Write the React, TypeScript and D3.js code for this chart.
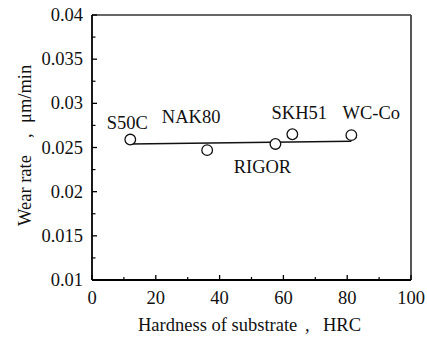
import * as d3 from "d3";

const materials = ["S50C", "NAK80", "RIGOR", "SKH51", "WC-Co"];
const hardness = [12, 36.1, 57.5, 62.8, 81.3];
const wearRate = [0.0259, 0.0247, 0.0254, 0.0265, 0.0264];

// fitted line end points
const fitHardness = [12, 81.3];
const fitWearRate = [0.0254, 0.0257];

const xTicks = [0, 20, 40, 60, 80, 100];
const xMinorTicks = [10, 30, 50, 70, 90];
const yTicks = [0.01, 0.015, 0.02, 0.025, 0.03, 0.035, 0.04];
const yMinorTicks = [0.0125, 0.0175, 0.0225, 0.0275, 0.0325, 0.0375];

const width = 427;
const height = 337;
const margin = { top: 15, right: 16, bottom: 57, left: 92 };

// label placement relative to each marker (center of text)
const labelOffsets: [number, number][] = [
  [-3, -17],
  [-16, -33],
  [-13, 23],
  [7, -21],
  [20, -22],
];

const textStyle = {
  fontFamily: "'Liberation Serif', 'Times New Roman', serif",
  fontSize: "18.5px",
  fill: "#111",
  whiteSpace: "pre" as const,
};

export default function App() {
  const x = d3
    .scaleLinear()
    .domain([0, 100])
    .range([margin.left, width - margin.right]);
  const y = d3
    .scaleLinear()
    .domain([0.01, 0.04])
    .range([height - margin.bottom, margin.top]);

  const fitLine = d3
    .line<number>()
    .x((d) => x(d))
    .y((_, i) => y(fitWearRate[i]));

  const x0 = x(0);
  const x1 = x(100);
  const y0 = y(0.01);
  const y1 = y(0.04);

  return (
    <svg
      width={width}
      height={height}
      style={{ position: "absolute", left: 0, top: 0, background: "#fff" }}
    >
      {/* frame: top and right thinner */}
      <line x1={x0} x2={x1} y1={y1} y2={y1} stroke="#333" strokeWidth={1.5} />
      <line x1={x1} x2={x1} y1={y1} y2={y0} stroke="#444" strokeWidth={1.8} />
      <line x1={x0} x2={x0} y1={y1} y2={y0} stroke="#000" strokeWidth={1.8} />
      <line x1={x0} x2={x1} y1={y0} y2={y0} stroke="#000" strokeWidth={1.8} />

      {/* y ticks */}
      {yTicks.map((t) => (
        <g key={"y" + t}>
          <line x1={x0} x2={x0 + 5} y1={y(t)} y2={y(t)} stroke="#000" strokeWidth={1.3} />
          <text x={x0 - 9} y={y(t) + 6} textAnchor="end" style={textStyle}>
            {String(+t.toFixed(3))}
          </text>
        </g>
      ))}
      {yMinorTicks.map((t) => (
        <line key={"ym" + t} x1={x0} x2={x0 + 3.5} y1={y(t)} y2={y(t)} stroke="#000" strokeWidth={1.2} />
      ))}

      {/* x ticks */}
      {xTicks.map((t) => (
        <g key={"x" + t}>
          <line x1={x(t)} x2={x(t)} y1={y0} y2={y0 - 5} stroke="#000" strokeWidth={1.3} />
          <text x={x(t)} y={y0 + 24} textAnchor="middle" style={textStyle}>
            {t}
          </text>
        </g>
      ))}
      {xMinorTicks.map((t) => (
        <line key={"xm" + t} x1={x(t)} x2={x(t)} y1={y0} y2={y0 - 3} stroke="#000" strokeWidth={1.2} />
      ))}

      {/* fit line */}
      <path d={fitLine(fitHardness) ?? ""} fill="none" stroke="#111" strokeWidth={1.5} />

      {/* data points */}
      {hardness.map((h, i) => (
        <circle
          key={materials[i]}
          cx={x(h)}
          cy={y(wearRate[i])}
          r={5.3}
          fill="#fff"
          stroke="#111"
          strokeWidth={1.3}
        />
      ))}

      {/* material labels */}
      {materials.map((m, i) => (
        <text
          key={"l" + m}
          x={x(hardness[i]) + labelOffsets[i][0]}
          y={y(wearRate[i]) + labelOffsets[i][1] + 6}
          textAnchor="middle"
          style={textStyle}
        >
          {m}
        </text>
      ))}

      {/* axis titles */}
      <text x={138} y={331} style={textStyle}>
        Hardness of substrate
        <tspan x={305}>,</tspan>
        <tspan x={323}>HRC</tspan>
      </text>
      <g transform="translate(31, 0) rotate(-90)">
        <text x={-226} y={0} style={textStyle}>
          Wear rate
          <tspan x={-138}>,</tspan>
          <tspan x={-123}>μm/min</tspan>
        </text>
      </g>
    </svg>
  );
}
